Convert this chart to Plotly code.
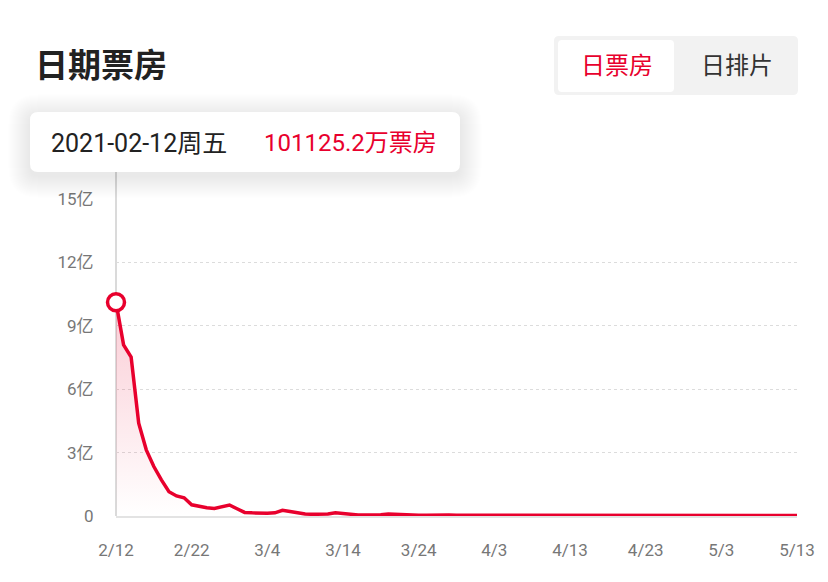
import pandas as pd
import plotly.graph_objects as go

# ===== DATA =====
# daily box office, 2021-02-12 .. 2021-05-13, unit: 亿
start_date = "2021-02-12"
box_office = [
    10.11, 8.10, 7.52, 4.39, 3.13, 2.34, 1.71, 1.15, 0.95, 0.86,
    0.53, 0.45, 0.39, 0.36, 0.46, 0.52, 0.34, 0.17, 0.15, 0.13,
    0.13, 0.15, 0.27, 0.21, 0.15, 0.09, 0.08, 0.08, 0.09, 0.15,
    0.12, 0.06, 0.05, 0.05, 0.05, 0.06, 0.10, 0.08, 0.05, 0.05,
    0.04, 0.04, 0.05, 0.07, 0.05, 0.04, 0.04, 0.04, 0.04, 0.03,
    0.05, 0.05, 0.04, 0.03, 0.03, 0.03, 0.03, 0.03, 0.03, 0.03,
    0.03, 0.03, 0.03, 0.03, 0.03, 0.03, 0.03, 0.03, 0.03, 0.03,
    0.03, 0.03, 0.03, 0.03, 0.03, 0.03, 0.03, 0.03, 0.04, 0.04,
    0.04, 0.03, 0.03, 0.02, 0.02, 0.02, 0.02, 0.02, 0.02, 0.02,
    0.02,
]
dates = pd.date_range(start_date, periods=len(box_office), freq="D")

x_tick_dates = ["2021-02-12", "2021-02-22", "2021-03-04", "2021-03-14", "2021-03-24",
                "2021-04-03", "2021-04-13", "2021-04-23", "2021-05-03", "2021-05-13"]
x_tick_text = ["2/12", "2/22", "3/4", "3/14", "3/24", "4/3", "4/13", "4/23", "5/3", "5/13"]
y_tick_vals = [0, 3, 6, 9, 12, 15]
y_tick_text = ["0", "3亿", "6亿", "9亿", "12亿", "15亿"]

tip_date = "2021-02-12周五"
tip_value = "101125.2万票房"

RED = "#e8002d"
FONT = "Roboto, Noto Sans CJK SC, sans-serif"

# page is 828x582 but the html body has an 8px margin,
# so the figure is drawn smaller and everything below is in page pixels
OFF = 8
W, H = 828 - 2 * OFF, 582 - 2 * OFF
L, R, T, B = 116, 797, 199, 516   # plot area, page pixels


def px(x):
    return (x - L) / (R - L)


def py(y):
    return (B - y) / (B - T)


def rrect(x0, y0, x1, y1, r):
    # rounded rectangle path in paper coords from pixel corners
    return (f"M {px(x0 + r)} {py(y0)} L {px(x1 - r)} {py(y0)} "
            f"Q {px(x1)} {py(y0)} {px(x1)} {py(y0 + r)} L {px(x1)} {py(y1 - r)} "
            f"Q {px(x1)} {py(y1)} {px(x1 - r)} {py(y1)} L {px(x0 + r)} {py(y1)} "
            f"Q {px(x0)} {py(y1)} {px(x0)} {py(y1 - r)} L {px(x0)} {py(y0 + r)} "
            f"Q {px(x0)} {py(y0)} {px(x0 + r)} {py(y0)} Z")


fig = go.Figure()

# area + line
fig.add_trace(go.Scatter(
    x=dates, y=box_office, mode="lines",
    line=dict(color=RED, width=3.5),
    fill="tozeroy",
    fillgradient=dict(type="vertical",
                      colorscale=[[0, "rgba(232,0,45,0.0)"], [1, "rgba(232,0,45,0.2)"]]),
    hoverinfo="skip", showlegend=False,
))

# highlighted point
fig.add_trace(go.Scatter(
    x=[dates[0]], y=[box_office[0]], mode="markers",
    marker=dict(symbol="circle", size=17, color="white", line=dict(color=RED, width=3.5)),
    cliponaxis=False, hoverinfo="skip", showlegend=False,
))

shapes = []
# crosshair line
shapes.append(dict(type="line", xref="paper", yref="paper",
                   x0=0, x1=0, y0=0, y1=py(172),
                   line=dict(color="#b5b5b5", width=1), layer="below"))

# tooltip shadow + box
for i in range(22, 0, -1):
    shapes.append(dict(type="path", xref="paper", yref="paper",
                       path=rrect(30 - i, 112 - i + 4, 460 + i, 172 + i + 4, 8 + i),
                       fillcolor="rgba(0,0,0,0.0045)", line=dict(width=0)))
shapes.append(dict(type="path", xref="paper", yref="paper",
                   path=rrect(30, 112, 460, 172, 8),
                   fillcolor="white", line=dict(width=0)))

# toggle buttons
shapes.append(dict(type="path", xref="paper", yref="paper",
                   path=rrect(554, 36, 798, 95, 5),
                   fillcolor="#f2f2f2", line=dict(width=0)))
shapes.append(dict(type="path", xref="paper", yref="paper",
                   path=rrect(558, 40, 674, 92, 4),
                   fillcolor="white", line=dict(width=0)))

annotations = [
    dict(text="<b>日期票房</b>", x=px(33), y=py(66), xanchor="left", yanchor="middle",
         font=dict(size=33, color="#222", family=FONT)),
    dict(text="日票房", x=px(617), y=py(66), xanchor="center", yanchor="middle",
         font=dict(size=24, color=RED, family=FONT)),
    dict(text="日排片", x=px(737), y=py(66), xanchor="center", yanchor="middle",
         font=dict(size=24, color="#333", family=FONT)),
    dict(text=tip_date, x=px(49), y=py(143), xanchor="left", yanchor="middle",
         font=dict(size=25, color="#222", family=FONT)),
    dict(text=tip_value, x=px(262), y=py(143), xanchor="left", yanchor="middle",
         font=dict(size=24, color=RED, family=FONT)),
]
for a in annotations:
    a.update(xref="paper", yref="paper", showarrow=False)

fig.update_layout(
    width=W, height=H,
    margin=dict(l=L - OFF, r=W + OFF - R, t=T - OFF, b=H + OFF - B, autoexpand=False),
    paper_bgcolor="white", plot_bgcolor="white",
    shapes=shapes, annotations=annotations,
    font=dict(family=FONT),
)

fig.update_xaxes(
    range=[dates[0], dates[-1]],
    tickvals=x_tick_dates, ticktext=x_tick_text,
    showgrid=False, zeroline=False,
    showline=True, linecolor="#e3e3e3", linewidth=2,
    ticks="outside", ticklen=18, tickcolor="rgba(0,0,0,0)",
    tickfont=dict(size=17, color="#777"),
)
fig.update_yaxes(
    range=[0, 15],
    tickvals=y_tick_vals, ticktext=y_tick_text,
    showgrid=True, gridcolor="#dcdcdc", griddash="dot", gridwidth=1,
    zeroline=False, showline=False,
    ticks="outside", ticklen=18, tickcolor="rgba(0,0,0,0)",
    tickfont=dict(size=17, color="#777"),
)

fig.write_html("out.html", config={"responsive": False})
